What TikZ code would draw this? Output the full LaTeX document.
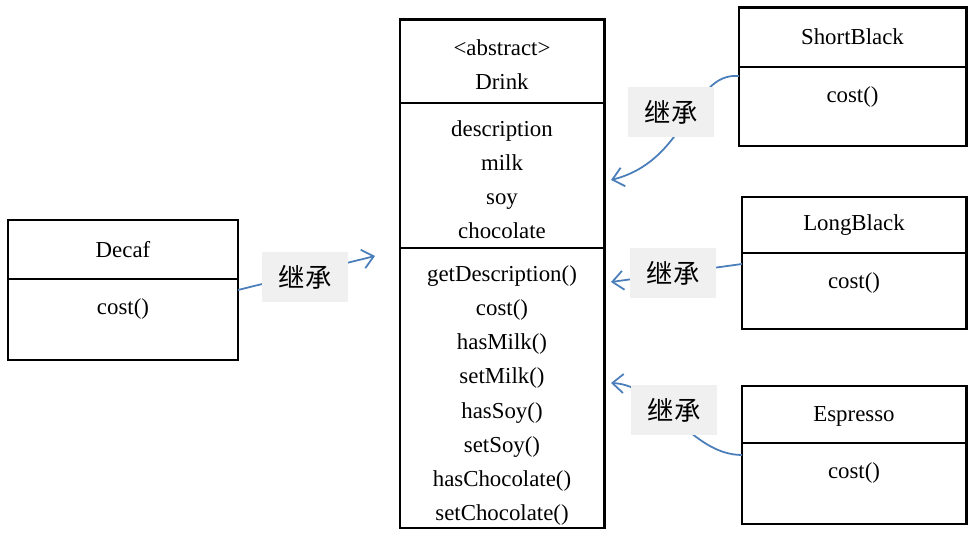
\documentclass[tikz,border=0pt]{standalone}
\usepackage{fontspec}
\setmainfont{Liberation Serif}
\newfontfamily\cjk{Noto Sans CJK SC}
\usetikzlibrary{arrows.meta}
\definecolor{inheritBlue}{RGB}{74,126,187}
\definecolor{labelGray}{RGB}{240,240,240}
\begin{document}
\begin{tikzpicture}[x=0.2mm,y=-0.2mm]
\tikzset{
    umlBox/.style={draw,line width=1.7pt,inner sep=0pt,outer sep=0pt},
    umlText/.style={inner sep=1pt,align=center,font=\fontsize{13}{19.4}\selectfont},
    inheritLabel/.style={fill=labelGray,minimum width=17.2mm,minimum height=10mm,inner sep=0pt,font=\cjk\fontsize{15}{18}\selectfont},
    inheritArrow/.style={draw=inheritBlue,line width=1pt,-{Straight Barb[length=2.2mm,width=3.8mm]}}
}
\useasboundingbox (0,0) rectangle (975,541);

% abstract class Drink
\node[umlBox,anchor=north west,minimum width=40.8mm,minimum height=16.6mm] (drinkHead) at (400,20) {};
\node[umlBox,anchor=north,minimum width=40.8mm,minimum height=29mm] (drinkAttr) at (drinkHead.south) {};
\node[umlBox,anchor=north,minimum width=40.8mm,minimum height=56mm] (drinkOps) at (drinkAttr.south) {};
\node[umlText] (drinkName) at ([yshift=-0.6mm]drinkHead.center) {<abstract>\\Drink};
\node[umlText] (drinkFields) at ([yshift=-0.8mm]drinkAttr.center) {description\\milk\\soy\\chocolate};
\node[umlText] (drinkMethods) at ([yshift=-1.5mm]drinkOps.center)
    {getDescription()\\cost()\\hasMilk()\\setMilk()\\hasSoy()\\setSoy()\\hasChocolate()\\setChocolate()};

% subclasses
\node[umlBox,anchor=north west,minimum width=46mm,minimum height=11.8mm] (decafHead) at (8,220) {};
\node[umlBox,anchor=north,minimum width=46mm,minimum height=16.2mm] (decafBody) at (decafHead.south) {};
\node[umlText] (decafName) at (decafHead.center) {Decaf};
\node[umlText] (decafCost) at ([yshift=-6.1mm]decafBody.north) {cost()};

\node[umlBox,anchor=north west,minimum width=45.4mm,minimum height=11.8mm] (sbHead) at (739,8) {};
\node[umlBox,anchor=north,minimum width=45.4mm,minimum height=15.8mm] (sbBody) at (sbHead.south) {};
\node[umlText] (sbName) at ([yshift=0.2mm]sbHead.center) {ShortBlack};
\node[umlText] (sbCost) at ([yshift=-6mm]sbBody.north) {cost()};

\node[umlBox,anchor=north west,minimum width=44.8mm,minimum height=11.2mm] (lbHead) at (742,197) {};
\node[umlBox,anchor=north,minimum width=44.8mm,minimum height=15.2mm] (lbBody) at (lbHead.south) {};
\node[umlText] (lbName) at (lbHead.center) {LongBlack};
\node[umlText] (lbCost) at ([yshift=-6mm]lbBody.north) {cost()};

\node[umlBox,anchor=north west,minimum width=44.8mm,minimum height=11.4mm] (espHead) at (742,386) {};
\node[umlBox,anchor=north,minimum width=44.8mm,minimum height=16.2mm] (espBody) at (espHead.south) {};
\node[umlText] (espName) at ([yshift=-0.3mm]espHead.center) {Espresso};
\node[umlText] (espCost) at ([yshift=-6.1mm]espBody.north) {cost()};

% arrow ends
\coordinate (decafTip) at (375,256);
\coordinate (sbTip) at (611,180);
\coordinate (lbTip) at (611,282);
\coordinate (espTip) at (611,383);

% inheritance connectors
\draw[inheritArrow] ([yshift=-2.2mm]decafBody.north east) -- (decafTip);
\draw[inheritArrow] ([yshift=-1.8mm]sbBody.north west) .. controls (690,72) and (690,160) .. (sbTip);
\draw[inheritArrow] ([yshift=-2.2mm]lbBody.north west) -- (lbTip);
\draw[inheritArrow] ([yshift=-2.4mm]espBody.north west) .. controls (690,455) and (660,385) .. (espTip);

% labels
\node[inheritLabel] (decafLbl) at (305,277) {继承};
\node[inheritLabel] (sbLbl) at (671,112) {继承};
\node[inheritLabel] (lbLbl) at (673,273) {继承};
\node[inheritLabel] (espLbl) at (674,410) {继承};
\end{tikzpicture}
\end{document}
